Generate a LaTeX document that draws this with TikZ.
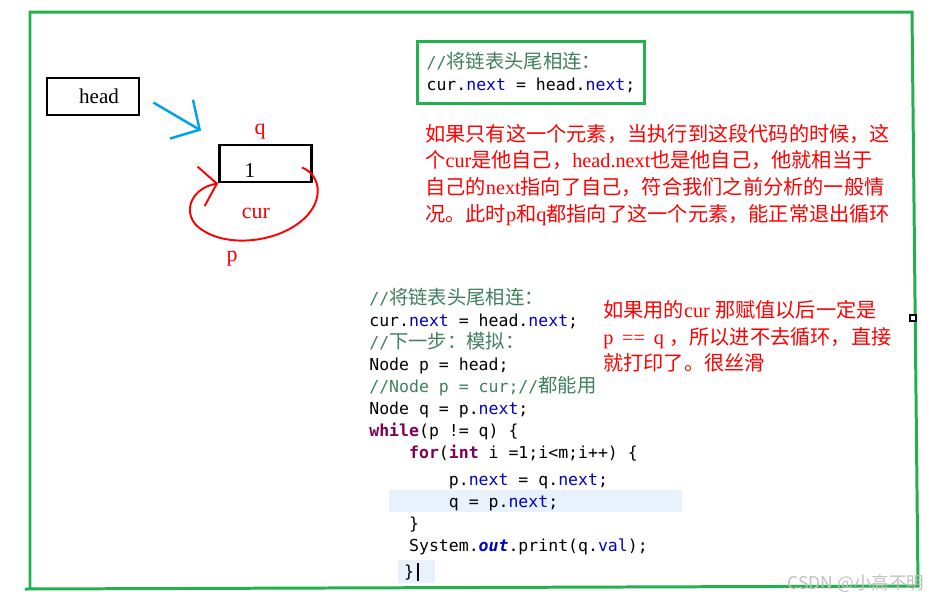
\documentclass[tikz,border=0pt]{standalone}
\usepackage{fontspec}
\setmainfont{Liberation Serif}
\newfontfamily\cjk{Noto Sans CJK SC}
\newfontfamily\codefont{DejaVu Sans Mono}
\usepackage{xcolor}
\usetikzlibrary{positioning, arrows.meta}

\definecolor{paintgreen}{HTML}{22B14C}
\definecolor{inkblue}{HTML}{00A2E8}
\definecolor{kwcol}{HTML}{7F0055}
\definecolor{fldcol}{HTML}{0000C0}
\definecolor{cmtcol}{HTML}{3F7F5F}
\definecolor{linehl}{HTML}{E8F2FE}

\newcommand{\zh}[1]{{\cjk #1}}
\newcommand{\zhc}[1]{{\cjk\fontsize{11pt}{12.47pt}\selectfont #1}}
\newcommand{\kw}[1]{\textcolor{kwcol}{\bfseries #1}}
\newcommand{\fld}[1]{\textcolor{fldcol}{#1}}
\newcommand{\cmt}[1]{\textcolor{cmtcol}{#1}}
\newcommand{\ind}[1]{\hspace*{#1\fontcharwd\font`0}}

\begin{document}
\begin{tikzpicture}[
    x=0.02cm, y=-0.02cm,
    paintframe/.style={
        draw=paintgreen,
        line width=1.7pt
    },
    box/.style={
        draw,
        line width=1.6pt,
        minimum width=1.84cm,
        minimum height=0.74cm,
        inner sep=0pt,
        font=\fontsize{12}{14}\selectfont
    },
    tag/.style={
        text=red,
        inner sep=0pt,
        font=\fontsize{12.5}{15}\selectfont
    },
    remark/.style={
        text=red,
        align=left,
        anchor=north west,
        inner sep=0pt,
        font=\fontsize{11.5}{15.1}\selectfont
    },
    codetext/.style={
        align=left,
        font=\codefont\fontsize{9.4}{12.47}\selectfont
    },
    pointer/.style={
        draw=inkblue,
        line width=1.4pt,
        -{Straight Barb[length=0.42cm, width=0.9cm]}
    },
    selfloop/.style={
        draw=red,
        line width=1.1pt,
        -{Straight Barb[length=0.32cm, width=0.8cm]}
    }
]
\useasboundingbox (0,0) rectangle (937,600);

% Outer frame
\draw [paintframe] (25,589) -- (918,586) -- (912,12) -- (30,12) -- (30,589);
\draw [fill=white, line width=0.6pt] (910,315) rectangle (916,321);

% Editor highlights
\fill [linehl] (389,490) rectangle (682,512);
\fill [linehl] (398,560) rectangle (435,583);
\draw [line width=0.6pt] (418,563) -- (418,581);

% Sketch on the left
\node (head) at (93,96.5) [box] {\hspace*{0.24cm}\raisebox{-0.07cm}{head}};
\node (elem) at (265.5,163.5) [box] {};
\node (val) at (250,171) [font=\fontsize{12}{14}\selectfont, inner sep=0pt] {1};
\node (qname) at (260,132) [tag] {q};
\node (curname) at (256,213) [tag] {cur};
\node (pname) at (232,259) [tag] {p};

\draw [pointer] ([shift={(13,6)}]head.east) -- ([shift={(-17,-13)}]elem.north west);
\draw [selfloop] ([shift={(-11,4)}]elem.east) .. controls (322,175) and (326,205) .. (296,225)
    .. controls (270,243) and (222,248) .. (197,226)
    .. controls (182,211) and (192,188) .. (elem.south west);

% Code snippet in the green box
\node (tipbox) at (416,40) [anchor=north west, draw=paintgreen, line width=1.7pt,
    codetext, minimum width=4.54cm, minimum height=1.24cm] {%
    \cmt{//\zhc{将链表头尾相连：}}\\
    cur.\fld{next} = head.\fld{next};};

% Red notes
\node (note1) at (425,124) [remark] {%
    \zh{如果只有这一个元素，当执行到这段代码的时候，这}\\
    \zh{个}cur\zh{是他自己，}head.next\zh{也是他自己，他就相当于}\\
    \zh{自己的}next\zh{指向了自己，符合我们之前分析的一般情}\\
    \zh{况。此时}p\zh{和}q\zh{都指向了这一个元素，能正常退出循环}};

\node (note2) at (603,300) [remark] {%
    \zh{如果用的}cur \zh{那赋值以后一定是}\\
    p\hspace{5pt}==\hspace{5pt}q\hspace{3pt}\zh{，所以进不去循环，直接}\\
    \zh{就打印了。很丝滑}};

% Full code listing
\node (listing) at (369,288) [codetext, anchor=north west, inner sep=0pt] {%
    \cmt{//\zhc{将链表头尾相连：}}\\
    cur.\fld{next} = head.\fld{next};\\
    \cmt{//\zhc{下一步：模拟：}}\\
    Node p = head;\\
    \cmt{//Node p = cur;//\zhc{都能用}}\\
    Node q = p.\fld{next};\\
    \kw{while}(p != q) \{\\
    \ind{4}\kw{for}(\kw{int} i =1;i<m;i++) \{\\[0.12cm]
    \ind{8}p.\fld{next} = q.\fld{next};\\
    \ind{8}q = p.\fld{next};\\
    \ind{4}\}\\
    \ind{4}System.\fld{\bfseries\itshape out}.print(q.\fld{val});\\[0.08cm]
    \ind{3.5}\}};

% Watermark
\node (wm) at (856,584) [font=\cjk\fontsize{10}{12}\selectfont, text=black!25] {CSDN @小高不明};
\end{tikzpicture}
\end{document}
